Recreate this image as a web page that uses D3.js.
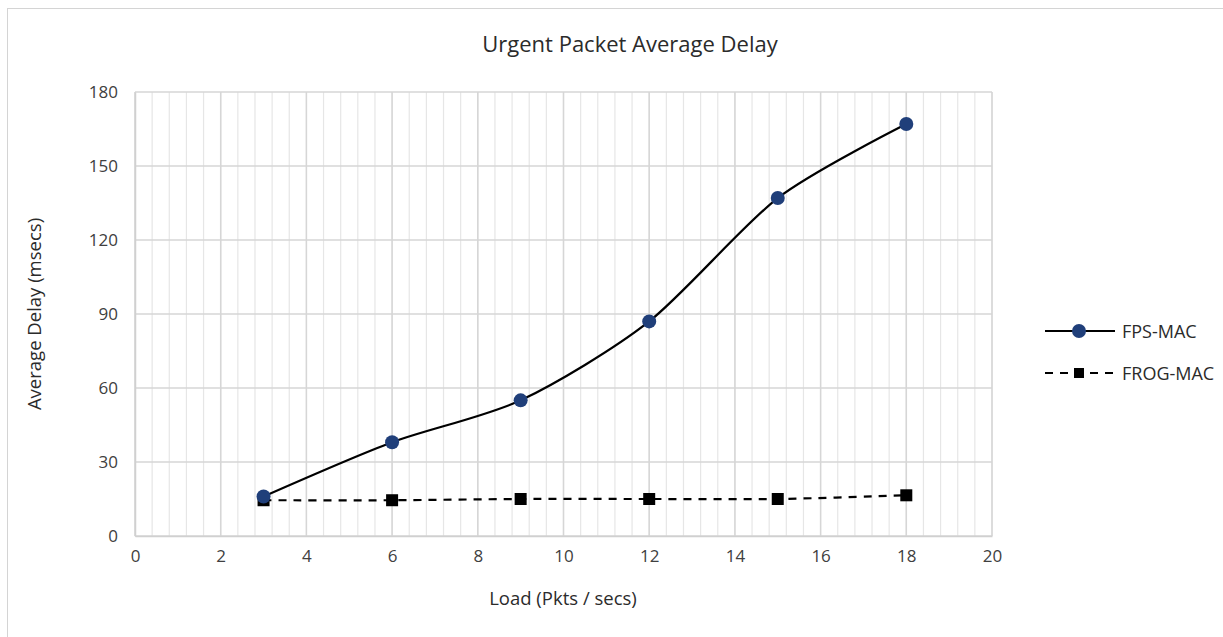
<!DOCTYPE html>
<html>
<head>
<meta charset="utf-8">
<script src="https://cdn.jsdelivr.net/npm/d3@7"></script>
<style>
  body { margin: 0; background: linear-gradient(#e4e4e4, #f0f0f0); font-family: "Open Sans", "Liberation Sans", sans-serif; }
  #card { position: absolute; left: 7px; top: 8px; width: 1216px; height: 629px; background: #fff; border-top: 1px solid #d4d4d4; border-left: 1px solid #d4d4d4; }
  svg { position: absolute; left: 0; top: 0; }
</style>
</head>
<body>
<div id="card"></div>
<svg id="chart" width="1223" height="637"></svg>
<script>
// data
let loads = [3, 6, 9, 12, 15, 18];
let fpsDelay = [16, 38, 55, 87, 137, 167];
let frogDelay = [14.5, 14.5, 15, 15, 15, 16.5];
let xTicks = [0, 2, 4, 6, 8, 10, 12, 14, 16, 18, 20];
let yTicks = [0, 30, 60, 90, 120, 150, 180];

let margin = { left: 135, right: 231, top: 92, bottom: 101 };
let width = 1223, height = 637;

let svg = d3.select("#chart");

let x = d3.scaleLinear().domain([0, 20]).range([margin.left, width - margin.right]);
let y = d3.scaleLinear().domain([0, 180]).range([height - margin.bottom, margin.top]);

// grid
let grid = svg.append("g");
grid.selectAll(".minor").data(d3.range(0, 20.01, 0.4))
  .enter().append("line")
  .attr("x1", d => x(d)).attr("x2", d => x(d))
  .attr("y1", y(0)).attr("y2", y(180))
  .attr("stroke", "#e6e6e6").attr("stroke-width", 1.2);
grid.selectAll(".major").data(xTicks)
  .enter().append("line")
  .attr("x1", d => x(d)).attr("x2", d => x(d))
  .attr("y1", y(0)).attr("y2", y(180))
  .attr("stroke", "#d6d6d6").attr("stroke-width", 1.5);
grid.selectAll(".hz").data(yTicks)
  .enter().append("line")
  .attr("x1", x(0)).attr("x2", x(20))
  .attr("y1", d => y(d)).attr("y2", d => y(d))
  .attr("stroke", "#d6d6d6").attr("stroke-width", 1.5);

// axes
let xAxis = d3.axisBottom(x).tickValues(xTicks).tickSize(0).tickPadding(14);
let yAxis = d3.axisLeft(y).tickValues(yTicks).tickSize(0).tickPadding(17);

svg.append("g").attr("transform", "translate(0," + y(0) + ")").call(xAxis)
  .call(g => g.select(".domain").attr("stroke", "#d0d0d0").attr("stroke-width", 1.5))
  .selectAll("text").attr("font-size", 17).attr("fill", "#404040").attr("font-family", "Open Sans, sans-serif");
svg.append("g").attr("transform", "translate(" + x(0) + ",0)").call(yAxis)
  .call(g => g.select(".domain").attr("stroke", "#d0d0d0").attr("stroke-width", 1.5))
  .selectAll("text").attr("font-size", 17).attr("fill", "#404040").attr("font-family", "Open Sans, sans-serif");

// titles
svg.append("text").attr("x", 630).attr("y", 52).attr("text-anchor", "middle")
  .attr("font-size", 22).attr("fill", "#2b2b2b").text("Urgent Packet Average Delay");
svg.append("text").attr("x", 563).attr("y", 605).attr("text-anchor", "middle")
  .attr("font-size", 18.5).attr("fill", "#2b2b2b").text("Load (Pkts / secs)");
svg.append("text").attr("transform", "translate(41," + y(90) + ") rotate(-90)").attr("text-anchor", "middle")
  .attr("font-size", 18.5).attr("fill", "#2b2b2b").text("Average Delay (msecs)");

// lines
let fpsData = loads.map((d, i) => ({ load: d, delay: fpsDelay[i] }));
let frogData = loads.map((d, i) => ({ load: d, delay: frogDelay[i] }));

let line = d3.line()
  .x(function(d){ return x(d.load); })
  .y(function(d){ return y(d.delay); })
  .curve(d3.curveCardinal.tension(0.2));

svg.append("path").attr("fill", "none").attr("stroke", "#000").attr("stroke-width", 2.2)
  .attr("stroke-dasharray", "8,7").attr("d", line(frogData));
svg.append("path").attr("fill", "none").attr("stroke", "#000").attr("stroke-width", 2.2)
  .attr("d", line(fpsData));

svg.selectAll(".sq").data(frogData).enter().append("rect")
  .attr("x", d => x(d.load) - 6).attr("y", d => y(d.delay) - 6)
  .attr("width", 12).attr("height", 12).attr("fill", "#000");
svg.selectAll(".dot").data(fpsData).enter().append("circle")
  .attr("cx", d => x(d.load)).attr("cy", d => y(d.delay)).attr("r", 7)
  .attr("fill", "#203f7a");

// legend
let legend = svg.append("g");
legend.append("line").attr("x1", 1045).attr("x2", 1115).attr("y1", 331).attr("y2", 331)
  .attr("stroke", "#000").attr("stroke-width", 2.2);
legend.append("circle").attr("cx", 1079).attr("cy", 331).attr("r", 7).attr("fill", "#203f7a");
legend.append("text").attr("x", 1122).attr("y", 338).attr("font-size", 18).attr("fill", "#2b2b2b").text("FPS-MAC");
legend.append("line").attr("x1", 1045).attr("x2", 1115).attr("y1", 373).attr("y2", 373)
  .attr("stroke", "#000").attr("stroke-width", 2.2).attr("stroke-dasharray", "8,7");
legend.append("rect").attr("x", 1074).attr("y", 368).attr("width", 10).attr("height", 10).attr("fill", "#000");
legend.append("text").attr("x", 1122).attr("y", 380).attr("font-size", 18).attr("fill", "#2b2b2b").text("FROG-MAC");
</script>
</body>
</html>
